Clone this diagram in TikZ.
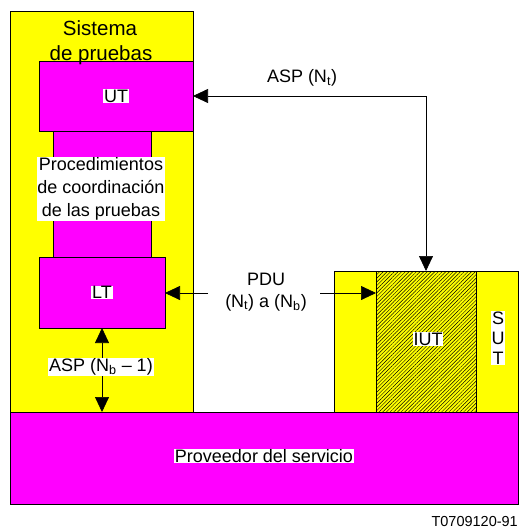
\documentclass[tikz,border=0pt]{standalone}
\usepackage{fontspec}
\setmainfont{Liberation Sans}
\usetikzlibrary{arrows.meta,patterns.meta}
\definecolor{ymag}{HTML}{FF00FF}
\definecolor{yyel}{HTML}{FFFF00}
\begin{document}
\begin{tikzpicture}[x=1pt,y=-1pt,
  box/.style={draw=black, line width=0.7pt, inner sep=0pt, outer sep=0pt},
  lbl/.style={fill=white, inner sep=0.8pt, font=\fontsize{18}{23}\selectfont, align=center},
  plain/.style={inner sep=0.8pt, font=\fontsize{20.5}{25}\selectfont, align=center},
  arr/.style={line width=0.7pt, -{Triangle[length=15pt,width=14pt]}},
  darr/.style={line width=0.7pt, {Triangle[length=15pt,width=14pt]}-{Triangle[length=15pt,width=14pt]}}]
\useasboundingbox (0,0) rectangle (519,530);
% boxes
\node[box, fill=yyel, minimum width=183pt, minimum height=401pt] (sys) at (101.5,211.5) {};
\node[box, fill=ymag, minimum width=98pt, minimum height=126pt] (proc) at (102,194) {};
\node[box, fill=ymag, minimum width=154pt, minimum height=70pt] (ut) at (116,96) {};
\node[box, fill=ymag, minimum width=126pt, minimum height=71pt] (lt) at (102,292.5) {};
\node[box, fill=ymag, minimum width=508pt, minimum height=92pt] (prov) at (264,458) {};
\node[box, fill=yyel, minimum width=184pt, minimum height=141pt] (sut) at (426,341.5) {};
\node[box, fill=yyel, minimum width=100pt, minimum height=141pt] (iutbg) at (426,341.5) {};
\node[box, pattern={Lines[angle=45,distance=2.6pt,line width=0.45pt]}, minimum width=100pt, minimum height=141pt] (iut) at (426,341.5) {};
% connectors
\draw[darr] (ut.east) -- (iut.north |- ut.east) -- (iut.north);
\coordinate (p1) at (208,293);
\coordinate (p2) at (320,293);
\draw[arr] (p1) -- (lt.east |- p1);
\draw[arr] (p2) -- (iut.west |- p2);
\draw[darr] (lt.south) -- (lt.south |- prov.north);
% labels
\node[plain] (sis1) at (100,28) {Sistema};
\node[plain] (sis2) at (101,55) {de pruebas};
\node[lbl] (utl) at (ut.center) {UT};
\node[lbl] (procl) at (101,189) {Procedimientos\\de coordinación\\de las pruebas};
\node[lbl] (ltl) at (lt.center) {LT};
\node[lbl] (aspb) at (101,367) {ASP (N\textsubscript{b} – 1)};
\node[lbl] (aspt) at (302,78) {ASP (N\textsubscript{t})};
\node[lbl, font=\fontsize{18}{22}\selectfont] (pdu) at (266,292) {PDU\\(N\textsubscript{t}) a (N\textsubscript{b})};
\node[lbl] (iutl) at (428,339) {IUT};
\node[lbl, font=\fontsize{18}{20}\selectfont] (sutl) at (498,338) {S\\U\\T};
\node[lbl] (provl) at (264,456) {Proveedor del servicio};
\node[anchor=east, font=\fontsize{14.5}{17}\selectfont, inner sep=0pt] (ref) at (518,522) {T0709120-91};
\end{tikzpicture}
\end{document}
